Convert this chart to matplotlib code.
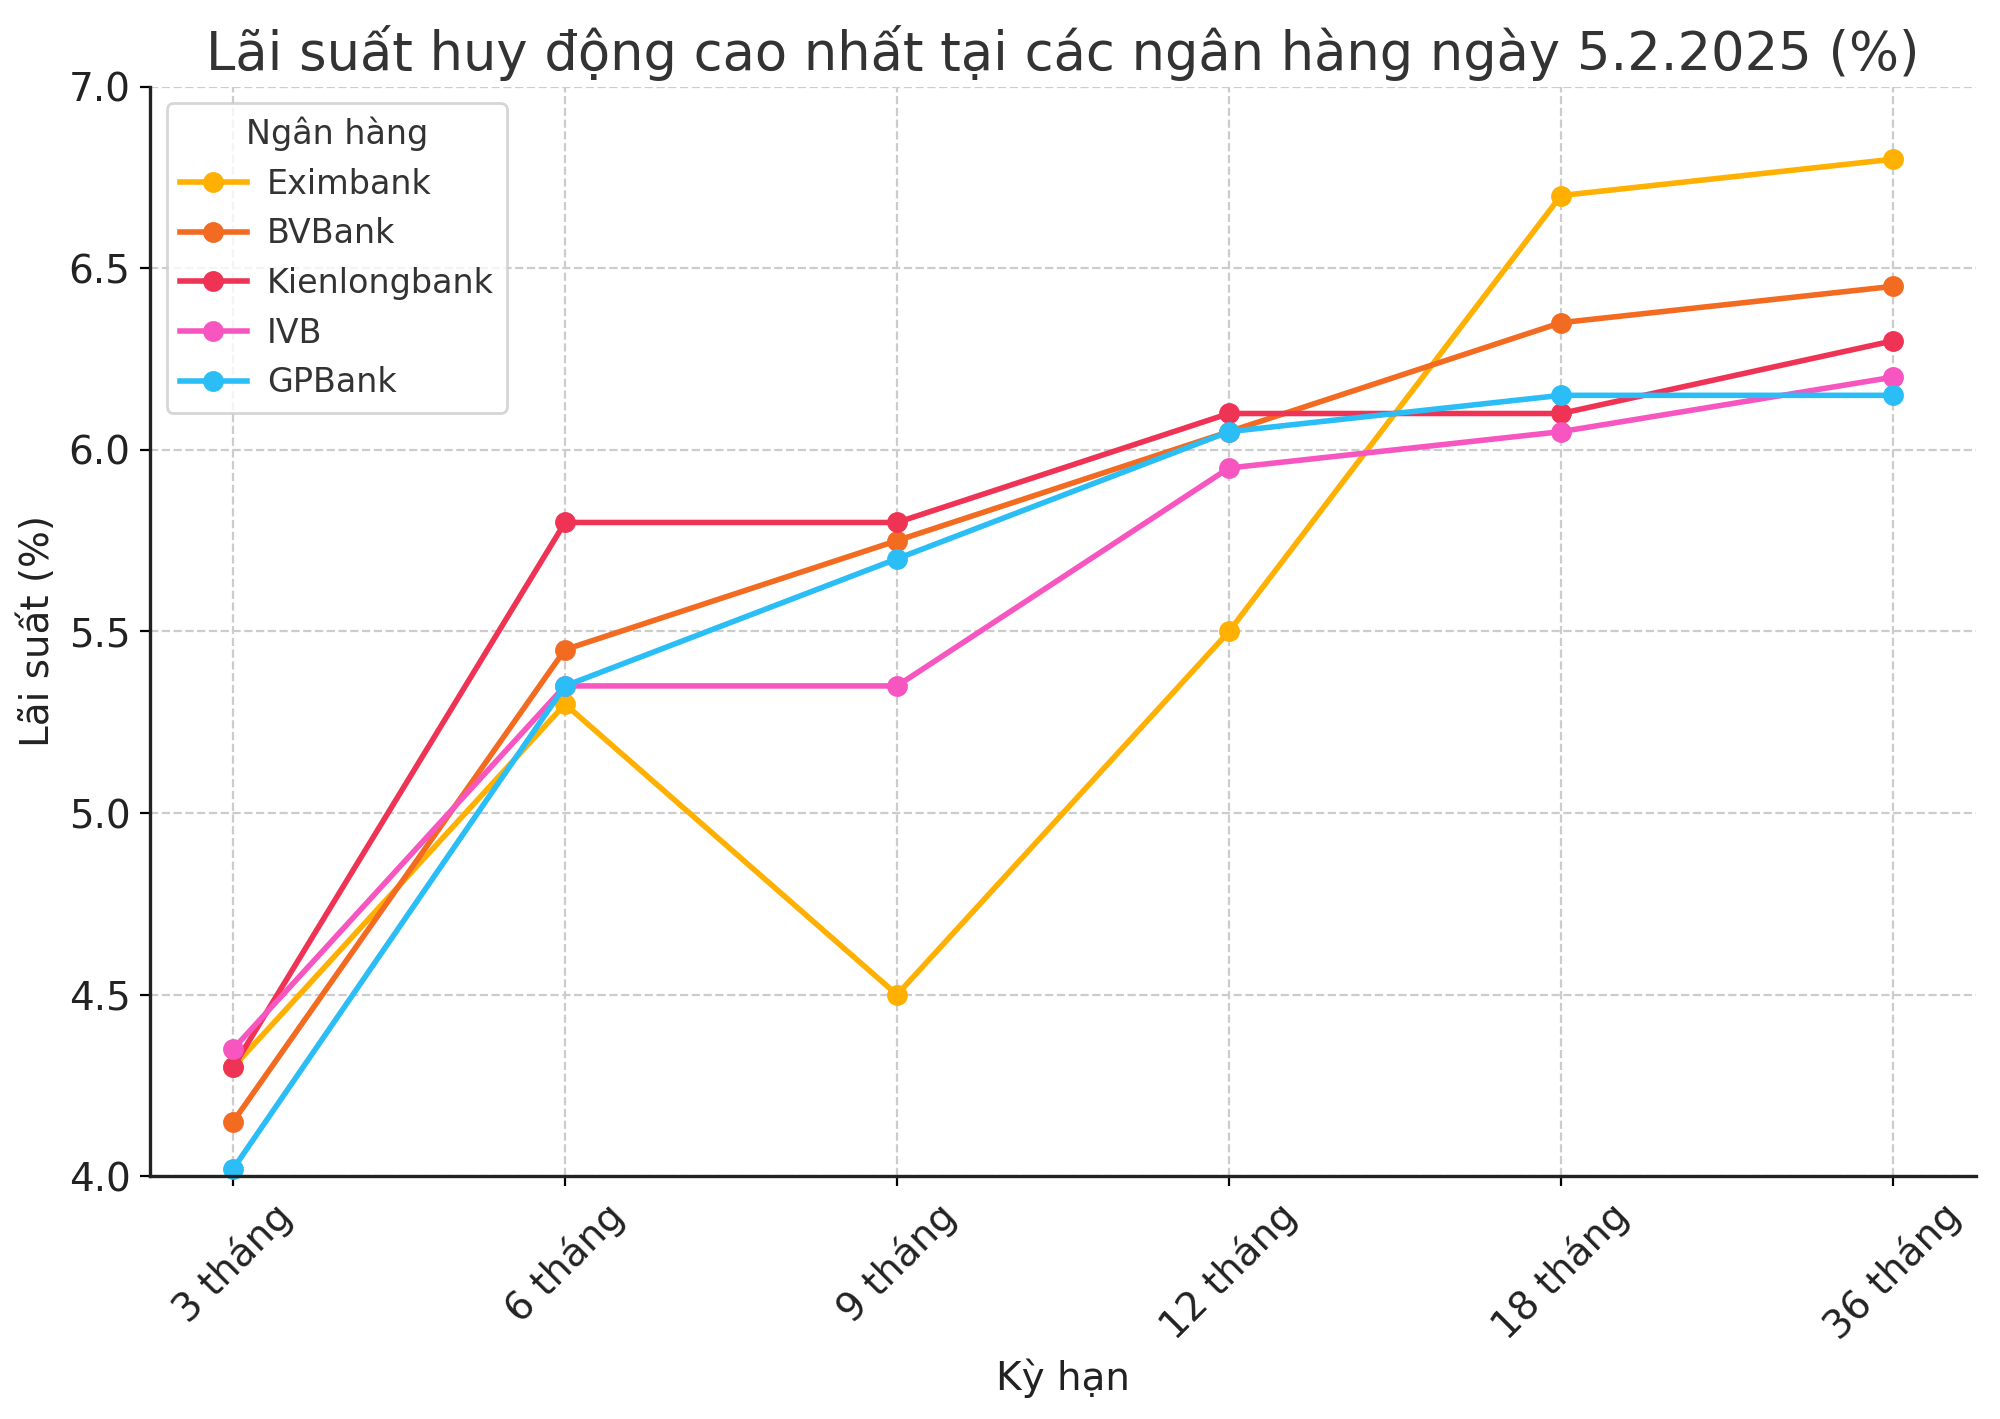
import matplotlib.pyplot as plt

# Dữ liệu lãi suất (%) theo kỳ hạn
ky_han = ["3 tháng", "6 tháng", "9 tháng", "12 tháng", "18 tháng", "36 tháng"]
eximbank = [4.3, 5.3, 4.5, 5.5, 6.7, 6.8]
bvbank = [4.15, 5.45, 5.75, 6.05, 6.35, 6.45]
kienlongbank = [4.3, 5.8, 5.8, 6.1, 6.1, 6.3]
ivb = [4.35, 5.35, 5.35, 5.95, 6.05, 6.2]
gpbank = [4.02, 5.35, 5.7, 6.05, 6.15, 6.15]

series = [
    ("Eximbank", eximbank, "#FFB000"),
    ("BVBank", bvbank, "#F26B21"),
    ("Kienlongbank", kienlongbank, "#EE3355"),
    ("IVB", ivb, "#F756C1"),
    ("GPBank", gpbank, "#2BBDF5"),
]

plt.rcParams["font.family"] = ["DejaVu Sans"]
text_color = "#333333"

fig, ax = plt.subplots(figsize=(10, 7.095), dpi=200)
fig.subplots_adjust(left=0.075, right=0.988, top=0.939, bottom=0.171)

x = list(range(len(ky_han)))
for name, vals, color in series:
    ax.plot(x, vals, marker="o", color=color, linewidth=2, markersize=6.5,
            label=name, clip_on=False)

ax.set_xlim(-0.25, 5.25)
ax.set_ylim(4.0, 7.0)
ax.set_xticks(x)
ax.set_xticklabels(ky_han, rotation=45, fontsize=14, color="#222222")
ax.tick_params(axis="y", labelsize=14, labelcolor="#222222")
ax.set_yticks([4.0, 4.5, 5.0, 5.5, 6.0, 6.5, 7.0])
ax.set_yticklabels([f"{v:.1f}" for v in ax.get_yticks()])

ax.grid(True, linestyle="--", color="#cccccc", linewidth=0.8)
ax.set_axisbelow(True)
for s in ["top", "right"]:
    ax.spines[s].set_visible(False)
for s in ["left", "bottom"]:
    ax.spines[s].set_linewidth(1.2)
    ax.spines[s].set_color("#222222")

ax.set_title("Lãi suất huy động cao nhất tại các ngân hàng ngày 5.2.2025 (%)",
             fontsize=19, color=text_color, pad=6)
ax.set_xlabel("Kỳ hạn", fontsize=14, color="#222222")
ax.set_ylabel("Lãi suất (%)", fontsize=14, color="#222222")

leg = ax.legend(title="Ngân hàng", loc="upper left", fontsize=12,
                title_fontsize=12, frameon=True, borderpad=0.4,
                handletextpad=0.6)
for t in leg.get_texts():
    t.set_color(text_color)
leg.get_title().set_color(text_color)

plt.savefig("out.png", dpi=200)
